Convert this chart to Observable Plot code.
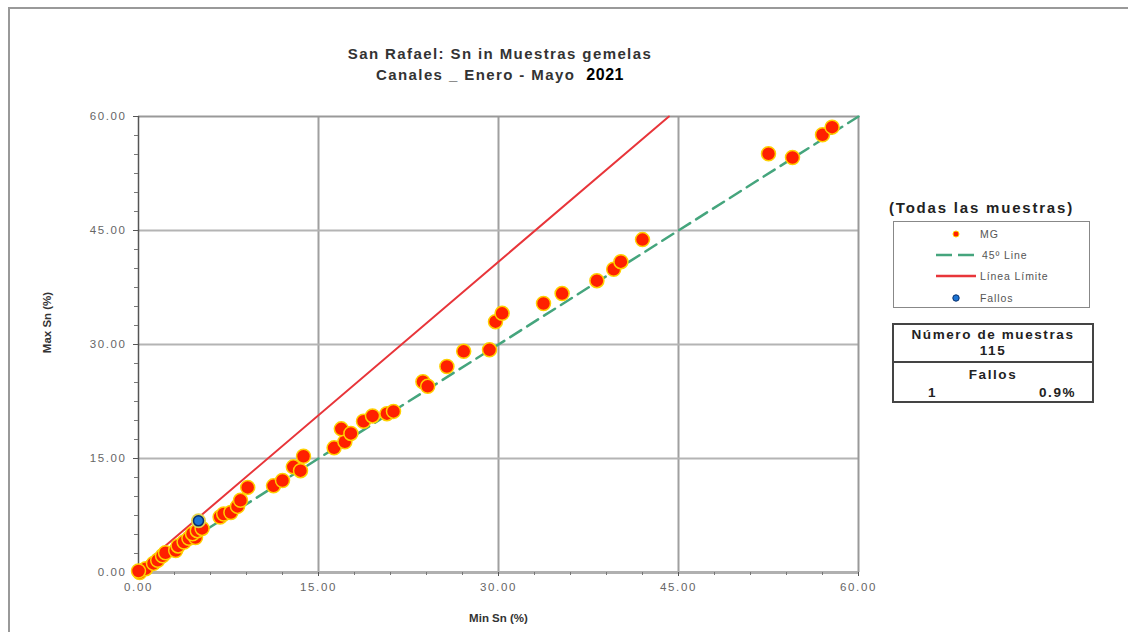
<!DOCTYPE html>
<html>
<head>
<meta charset="utf-8">
<script src="https://cdn.jsdelivr.net/npm/d3@7"></script>
<script src="https://cdn.jsdelivr.net/npm/@observablehq/plot@0.6"></script>
<style>
  html, body { margin: 0; padding: 0; background: #fff; }
  body { width: 1128px; height: 632px; position: relative; overflow: hidden; font-family: "Liberation Sans", Arial, sans-serif; }
  #outer { position: absolute; left: 8px; top: 7px; width: 1130px; height: 640px; border-top: 2px solid #999; border-left: 2px solid #999; }
  #chart { position: absolute; left: 0; top: 0; }
  .title { position: absolute; left: 0; width: 1000px; text-align: center; font-weight: bold; color: #333; font-size: 15px; letter-spacing: 1.4px; }
  .title .yr { color: #000; font-size: 16px; letter-spacing: 0.5px; }
  #legtitle { position: absolute; left: 889px; top: 199px; font-weight: bold; font-size: 15px; letter-spacing: 1.8px; color: #222; }
  #legbox { position: absolute; left: 893px; top: 221px; width: 197px; height: 87px; border: 1px solid #888; box-sizing: border-box; }
  .lrow { position: absolute; left: 0; height: 14px; width: 196px; font-size: 10.5px; color: #555; letter-spacing: 0.9px; }
  .lrow svg { position: absolute; left: 38px; top: 0; }
  .lrow span { position: absolute; top: 0; line-height: 14px; }
  #statbox { position: absolute; left: 892px; top: 323px; width: 202px; height: 80px; border: 2px solid #444; box-sizing: border-box; }
  #statdiv { position: absolute; left: 0; top: 36px; width: 198px; border-top: 2px solid #444; }
  .st { position: absolute; font-weight: bold; font-size: 13.5px; letter-spacing: 1.6px; color: #222; }
  svg g[aria-label="y-axis tick label"] text, svg g[aria-label="x-axis tick label"] text { letter-spacing: 1.6px; }
</style>
</head>
<body>
<div id="outer"></div>
<div id="chart"></div>
<div class="title" style="top:45px">San Rafael: Sn in Muestras gemelas</div>
<div class="title" style="top:66px">Canales _ Enero - Mayo &nbsp;<span class="yr">2021</span></div>
<div id="legtitle">(Todas las muestras)</div>
<div id="legbox">
  <div class="lrow" style="top:5px">
    <svg width="40" height="14"><circle cx="24" cy="7" r="3" fill="#ff2000" stroke="#ffd000" stroke-width="1"/></svg>
    <span style="left:86px">MG</span>
  </div>
  <div class="lrow" style="top:26px">
    <svg width="46" height="14"><line x1="4" y1="7" x2="46" y2="7" stroke="#45a57d" stroke-width="2.5" stroke-dasharray="16,6"/></svg>
    <span style="left:88px">45º Line</span>
  </div>
  <div class="lrow" style="top:47px">
    <svg width="44" height="14"><line x1="4" y1="7" x2="44" y2="7" stroke="#e8353a" stroke-width="2.5"/></svg>
    <span style="left:86px">Línea Límite</span>
  </div>
  <div class="lrow" style="top:69px">
    <svg width="40" height="14"><circle cx="24" cy="7" r="3.2" fill="#1c74d4" stroke="#0a2f6b" stroke-width="1"/></svg>
    <span style="left:86px">Fallos</span>
  </div>
</div>
<div id="statbox">
  <div class="st" style="left:0;width:198px;text-align:center;top:2px">Número de muestras</div>
  <div class="st" style="left:0;width:198px;text-align:center;top:18px">115</div>
  <div id="statdiv"></div>
  <div class="st" style="left:0;width:198px;text-align:center;top:42px">Fallos</div>
  <div class="st" style="left:34px;top:60px">1</div>
  <div class="st" style="left:145px;top:60px">0.9%</div>
</div>
<script>
// ---- Data ----
const mgMin = [0.1, 0.6, 0.0, 1.25, 1.6, 2.0, 2.25, 3.1, 3.3, 3.8, 4.2, 4.75, 4.5, 4.9, 5.3,
  6.8, 7.1, 7.7, 8.25, 8.5, 9.1, 11.25, 12.0, 12.9, 13.5, 13.75, 16.3, 17.2, 16.9, 17.7,
  18.75, 19.5, 20.7, 21.25, 23.7, 24.1, 25.7, 27.1, 29.25, 29.75, 30.3, 33.75, 35.3,
  38.2, 39.6, 40.2, 42.0, 52.5, 54.5, 57.0, 57.8];
const mgMax = [0.0, 0.5, 0.2, 1.2, 1.6, 2.2, 2.6, 2.9, 3.5, 4.0, 4.5, 4.6, 5.1, 5.5, 5.8,
  7.3, 7.7, 7.9, 8.7, 9.5, 11.2, 11.4, 12.1, 13.9, 13.4, 15.3, 16.4, 17.2, 18.9, 18.3,
  19.9, 20.6, 20.9, 21.2, 25.1, 24.5, 27.1, 29.1, 29.3, 33.0, 34.1, 35.4, 36.7,
  38.4, 39.9, 40.9, 43.8, 55.1, 54.6, 57.6, 58.6];
const fallosMin = [5.0];
const fallosMax = [6.8];
const diagX = [0, 60];
const diagY = [0, 60];
const limitX = [0, 44.2];
const limitY = [0.5, 60];
const majorTicks = [0, 15, 30, 45, 60];
const minorTicksX = [0, 3, 6, 9, 12, 15, 18, 21, 24, 27, 30, 33, 36, 39, 42, 45, 48, 51, 54, 57, 60];
const minorTicksY = [0, 2.5, 5, 7.5, 10, 12.5, 15, 17.5, 20, 22.5, 25, 27.5, 30, 32.5, 35, 37.5, 40, 42.5, 45, 47.5, 50, 52.5, 55, 57.5, 60];
const xLabel = "Min Sn (%)";
const yLabel = "Max Sn (%)";

const mg = mgMin.map((x, i) => ({x, y: mgMax[i]}));
const fallos = fallosMin.map((x, i) => ({x, y: fallosMax[i]}));
const diag = diagX.map((x, i) => ({x, y: diagY[i]}));
const limit = limitX.map((x, i) => ({x, y: limitY[i]}));
const fmt = d3.format(".2f");

const chart = Plot.plot({
  width: 880,
  height: 632,
  marginLeft: 138,
  marginRight: 22,
  marginTop: 116,
  marginBottom: 60,
  x: {domain: [0, 60], axis: null},
  y: {domain: [0, 60], axis: null},
  style: {fontFamily: "'Liberation Sans', Arial, sans-serif", fontSize: "11.5px", background: "transparent"},
  marks: [
    Plot.gridX([15, 30, 45], {stroke: "#a0a0a0", strokeWidth: 2, strokeOpacity: 1}),
    Plot.gridY([15, 30, 45], {stroke: "#b4b4b4", strokeWidth: 2, strokeOpacity: 1}),
    Plot.ruleY([60], {stroke: "#999", strokeWidth: 2}),
    Plot.ruleX([60], {stroke: "#999", strokeWidth: 2}),
    Plot.ruleY([0], {stroke: "#b0b0b0", strokeWidth: 3}),
    Plot.ruleX([0], {stroke: "#555", strokeWidth: 1.5}),
    Plot.axisY(minorTicksY, {tickSize: 4, text: null, stroke: "#777", label: null}),
    Plot.axisY(majorTicks, {tickSize: 5, tickPadding: 7, tickFormat: fmt, color: "#666", stroke: "#555", label: null}),
    Plot.axisX(minorTicksX, {tickSize: 3, text: null, stroke: "#777", label: null}),
    Plot.axisX(majorTicks, {tickSize: 4, tickPadding: 6, tickFormat: fmt, color: "#666", stroke: "#555", label: null}),
    Plot.text([xLabel], {frameAnchor: "bottom", dy: 49, fontWeight: "bold", fill: "#333", fontSize: 11.5}),
    Plot.text([yLabel], {frameAnchor: "left", textAnchor: "middle", dx: -91, dy: -22, rotate: -90, fontWeight: "bold", fill: "#333", fontSize: 11.5}),
    Plot.line(limit, {x: "x", y: "y", stroke: "#e8353a", strokeWidth: 2}),
    Plot.line(diag, {x: "x", y: "y", stroke: "#45a57d", strokeWidth: 2.5, strokeDasharray: "13,7"}),
    Plot.dot(mg, {x: "x", y: "y", r: 7, fill: "#ff2000", stroke: "#ffd000", strokeWidth: 1.5}),
    Plot.dot(fallos, {x: "x", y: "y", r: 7.5, fill: "#e4d24c"}),
    Plot.dot(fallos, {x: "x", y: "y", r: 5, fill: "#1c74d4", stroke: "#0a2f6b", strokeWidth: 1.5})
  ]
});
document.getElementById("chart").appendChild(chart);
</script>
</body>
</html>
